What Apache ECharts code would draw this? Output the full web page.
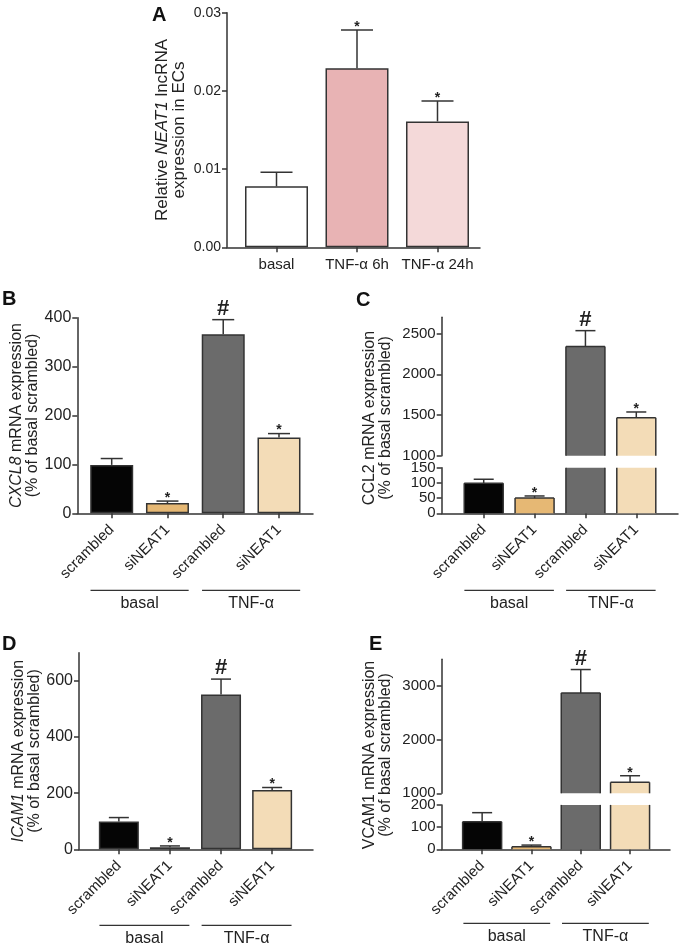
<!DOCTYPE html>
<html><head><meta charset="utf-8">
<script src="https://cdn.jsdelivr.net/npm/echarts@6/dist/echarts.min.js"></script>
<style>html,body{margin:0;padding:0;background:#fff}#c{width:681px;height:951px}</style>
</head><body><div id="c"></div>
<script>
// ---------- DATA ----------
const catsA = ['basal', 'TNF-α 6h', 'TNF-α 24h'];
const valsA = [0.0078, 0.0229, 0.0161];
const errA  = [0.0018, 0.0049, 0.0026];
const sigA  = ['', '*', '*'];
const ticksA = [0, 0.01, 0.02, 0.03];

const catsKD = ['scrambled', 'siNEAT1', 'scrambled', 'siNEAT1'];
const groupNames = ['basal', 'TNF-α'];
const groupSpans = [[0, 1], [2, 3]];

const valsB = [99, 21, 366, 155];
const errB  = [13, 4, 30, 8];
const sigB  = ['', '*', '#', '*'];
const ticksB = [0, 100, 200, 300, 400];

const valsC = [99, 50, 2340, 1467];
const errC  = [13, 7, 196, 70];
const sigC  = ['', '*', '#', '*'];
const ticksCLow = [0, 50, 100, 150];
const ticksCUp  = [1000, 1500, 2000, 2500];

const valsD = [99, 7, 551, 211];
const errD  = [14, 5, 55, 9];
const sigD  = ['', '*', '#', '*'];
const ticksD = [0, 200, 400, 600];

const valsE = [124, 12, 2873, 1205];
const errE  = [41, 7, 436, 123];
const sigE  = ['', '*', '#', '*'];
const ticksELow = [0, 100, 200];
const ticksEUp  = [1000, 2000, 3000];

// ---------- STYLE ----------
const FONT = "'Liberation Sans', Arial, Helvetica, sans-serif";
const INK = '#333333';
const TXT = '#222222';
const colorsA = ['#ffffff', '#e8b3b4', '#f4d9d9'];
const colorsKD = ['#050505', '#e6b874', '#6b6b6b', '#f3dcb7'];

const grids = [], xAxes = [], yAxes = [], series = [], graphics = [];

function xAxisCfg(gi, min, max, cats, show, labelOpt) {
  const idx = cats.map((c, i) => i);
  return {
    type: 'value', gridIndex: gi, min: min, max: max,
    axisLine: { show: show, onZero: false, lineStyle: { color: INK, width: 1.5 } },
    axisTick: { show: show, length: 5, customValues: idx, lineStyle: { color: INK, width: 1.5 } },
    axisLabel: Object.assign({ show: show, customValues: idx, formatter: v => cats[Math.round(v)] || '',
      color: TXT, fontFamily: FONT }, labelOpt || {}),
    splitLine: { show: false }
  };
}
function yAxisCfg(gi, min, max, ticks, fontSize, fmt, extra) {
  return Object.assign({
    type: 'value', gridIndex: gi, min: min, max: max,
    axisLine: { show: true, onZero: false, lineStyle: { color: INK, width: 1.5 } },
    axisTick: { show: true, length: 5, customValues: ticks, lineStyle: { color: INK, width: 1.5 } },
    axisLabel: { customValues: ticks, formatter: fmt, fontSize: fontSize, color: TXT, fontFamily: FONT, margin: 6 },
    splitLine: { show: false }
  }, extra || {});
}
function errRender(sigs, cap, starSize, hashSize) {
  return function (params, api) {
    const x = api.value(0), v = api.value(1), e = api.value(2);
    const p0 = api.coord([x, v]), p1 = api.coord([x, v + e]);
    const s = sigs[Math.round(x)];
    const ch = [
      { type: 'line', shape: { x1: p0[0], y1: p0[1], x2: p1[0], y2: p1[1] }, style: { stroke: INK, lineWidth: 1.5 } },
      { type: 'line', shape: { x1: p1[0] - cap, y1: p1[1], x2: p1[0] + cap, y2: p1[1] }, style: { stroke: INK, lineWidth: 1.5 } }
    ];
    if (s) {
      const isHash = s === '#';
      ch.push({ type: 'text', x: p1[0], y: p1[1] + (isHash ? 0 : 4),
        style: { text: s, align: 'center', verticalAlign: 'bottom', fontFamily: FONT,
          fontSize: isHash ? hashSize : starSize, fontWeight: 'bold', fill: TXT } });
    }
    return { type: 'group', children: ch };
  };
}
function groupRender(off, ext) {
  return function (params, api) {
    const s = api.value(0), e = api.value(1);
    const a = api.coord([s - ext, 0]), b = api.coord([e + ext, 0]);
    const y = a[1] + off;
    return { type: 'group', children: [
      { type: 'line', shape: { x1: a[0], y1: y, x2: b[0], y2: y }, style: { stroke: INK, lineWidth: 1.3 } },
      { type: 'text', x: (a[0] + b[0]) / 2, y: y + 5, style: { text: groupNames[params.dataIndex], align: 'center',
        verticalAlign: 'top', fontSize: 16, fontFamily: FONT, fill: TXT } }
    ] };
  };
}
function brokenBarRender(colors, halfW) {
  return function (params, api) {
    const i = api.value(0), v = api.value(1);
    const cs = params.coordSys;
    const top = api.coord([i, v]), base = api.coord([i, 0]);
    const yTop = Math.max(top[1], cs.y), yBot = Math.min(base[1], cs.y + cs.height);
    if (yTop >= yBot) return null;
    const x0 = top[0] - halfW, x1 = top[0] + halfW;
    const st = { stroke: INK, lineWidth: 1.5 };
    const ch = [
      { type: 'rect', shape: { x: x0, y: yTop, width: x1 - x0, height: yBot - yTop }, style: { fill: colors[Math.round(i)] } },
      { type: 'line', shape: { x1: x0, y1: yTop, x2: x0, y2: yBot }, style: st },
      { type: 'line', shape: { x1: x1, y1: yTop, x2: x1, y2: yBot }, style: st }
    ];
    if (top[1] >= cs.y) ch.push({ type: 'line', shape: { x1: x0, y1: yTop, x2: x1, y2: yTop }, style: st });
    return { type: 'group', children: ch };
  };
}
function barSeries(gi, vals, colors, barW) {
  return { type: 'bar', xAxisIndex: gi, yAxisIndex: gi, barWidth: barW, silent: true,
    itemStyle: { borderColor: INK, borderWidth: 1.5 },
    data: vals.map((v, i) => ({ value: [i, v], itemStyle: { color: colors[i] } })) };
}
function errSeries(gi, vals, errs, sigs, idx, cap, starSize, hashSize) {
  return { type: 'custom', xAxisIndex: gi, yAxisIndex: gi, clip: false, silent: true, z: 3,
    renderItem: errRender(sigs, cap, starSize, hashSize),
    data: idx.map(i => [i, vals[i], errs[i]]) };
}
function groupSeries(gi, off, ext) {
  return { type: 'custom', xAxisIndex: gi, yAxisIndex: gi, clip: false, silent: true,
    renderItem: groupRender(off, ext), data: groupSpans };
}
const catLabel = { fontSize: 15, rotate: 45, margin: 14 };
const nameStyle = (fs, lh, rich) => ({ fontSize: fs, lineHeight: lh, color: TXT, fontFamily: FONT, rich: rich });
function richName(fs) {
  return {
    n: { fontSize: fs, fontFamily: FONT, color: TXT },
    i: { fontSize: fs, fontFamily: FONT, color: TXT, fontStyle: 'italic' }
  };
}

// ---------- PANEL A ----------
let gi = grids.push({ left: 227, top: 12.7, width: 253, height: 234.6 }) - 1;
xAxes.push(xAxisCfg(gi, -0.615, 2.528, catsA, true, { fontSize: 15, margin: 10 }));
yAxes.push(yAxisCfg(gi, 0, 0.03, ticksA, 14, v => v.toFixed(2), {
  name: '{n|Relative }{i|NEAT1}{n| lncRNA}\n{n|expression in ECs}',
  nameLocation: 'middle', nameGap: 39, nameTextStyle: nameStyle(17, 17, richName(17)) }));
series.push(barSeries(gi, valsA, colorsA, 63));
series.push(errSeries(gi, valsA, errA, sigA, [0, 1, 2], 16, 14, 22));

// ---------- PANEL B ----------
gi = grids.push({ left: 77.3, top: 317.7, width: 235.7, height: 195.6 }) - 1;
xAxes.push(xAxisCfg(gi, -0.617, 3.61, catsKD, true, catLabel));
yAxes.push(yAxisCfg(gi, 0, 400, ticksB, 16, v => String(v), {
  name: '{i|CXCL8}{n| mRNA expression}\n{n|(% of basal scrambled)}',
  nameLocation: 'middle', nameGap: 35, nameTextStyle: nameStyle(16, 16, richName(16)) }));
series.push(barSeries(gi, valsB, colorsKD, 43));
series.push(errSeries(gi, valsB, errB, sigB, [0, 1, 2, 3], 11, 14, 22));
series.push(groupSeries(gi, 77, 0.38));

// ---------- PANEL C (broken axis) ----------
const giCU = grids.push({ left: 441.7, top: 317.3, width: 236.3, height: 138.4 }) - 1;
xAxes.push(xAxisCfg(giCU, -0.826, 3.82, catsKD, false));
yAxes.push(yAxisCfg(giCU, 1000, 2700, ticksCUp, 15, v => String(v)));
const giCL = grids.push({ left: 441.7, top: 467.7, width: 236.3, height: 45.6 }) - 1;
xAxes.push(xAxisCfg(giCL, -0.826, 3.82, catsKD, true, catLabel));
yAxes.push(yAxisCfg(giCL, 0, 150, ticksCLow, 15, v => String(v)));
series.push({ type: 'custom', xAxisIndex: giCU, yAxisIndex: giCU, silent: true, clip: false,
  renderItem: brokenBarRender(colorsKD, 19.5), data: valsC.map((v, i) => [i, v]) });
series.push({ type: 'custom', xAxisIndex: giCL, yAxisIndex: giCL, silent: true, clip: false,
  renderItem: brokenBarRender(colorsKD, 19.5), data: valsC.map((v, i) => [i, v]) });
series.push(errSeries(giCU, valsC, errC, sigC, [0, 1, 2, 3].filter(i => valsC[i] > 1000), 10, 14, 22));
series.push(errSeries(giCL, valsC, errC, sigC, [0, 1, 2, 3].filter(i => valsC[i] + errC[i] <= 150), 10, 14, 22));
series.push(groupSeries(giCL, 77, 0.38));

// ---------- PANEL D ----------
gi = grids.push({ left: 79, top: 652.7, width: 234, height: 196.6 }) - 1;
xAxes.push(xAxisCfg(gi, -0.78, 3.8, catsKD, true, catLabel));
yAxes.push(yAxisCfg(gi, 0, 700, ticksD, 16, v => String(v), {
  name: '{i|ICAM1}{n| mRNA expression}\n{n|(% of basal scrambled)}',
  nameLocation: 'middle', nameGap: 36, nameTextStyle: nameStyle(16, 16, richName(16)) }));
series.push(barSeries(gi, valsD, colorsKD, 40));
series.push(errSeries(gi, valsD, errD, sigD, [0, 1, 2, 3], 10, 14, 22));
series.push(groupSeries(gi, 76, 0.38));

// ---------- PANEL E (broken axis) ----------
const giEU = grids.push({ left: 441.7, top: 659.3, width: 228.3, height: 134 }) - 1;
xAxes.push(xAxisCfg(giEU, -0.82, 3.81, catsKD, false));
yAxes.push(yAxisCfg(giEU, 1000, 3500, ticksEUp, 15, v => String(v)));
const giEL = grids.push({ left: 441.7, top: 804.9, width: 228.3, height: 44.4 }) - 1;
xAxes.push(xAxisCfg(giEL, -0.82, 3.81, catsKD, true, catLabel));
yAxes.push(yAxisCfg(giEL, 0, 200, ticksELow, 15, v => String(v)));
series.push({ type: 'custom', xAxisIndex: giEU, yAxisIndex: giEU, silent: true, clip: false,
  renderItem: brokenBarRender(colorsKD, 19.5), data: valsE.map((v, i) => [i, v]) });
series.push({ type: 'custom', xAxisIndex: giEL, yAxisIndex: giEL, silent: true, clip: false,
  renderItem: brokenBarRender(colorsKD, 19.5), data: valsE.map((v, i) => [i, v]) });
series.push(errSeries(giEU, valsE, errE, sigE, [0, 1, 2, 3].filter(i => valsE[i] > 1000), 10, 14, 22));
series.push(errSeries(giEL, valsE, errE, sigE, [0, 1, 2, 3].filter(i => valsE[i] + errE[i] <= 200), 10, 14, 22));
series.push(groupSeries(giEL, 74, 0.38));

// ---------- TITLES / PANEL LETTERS ----------
function vTitle(x, y, gene, italic) {
  return { type: 'text', x: x, y: y, rotation: Math.PI / 2, silent: true,
    style: { text: (italic ? '{i|' : '{n|') + gene + '}{n| mRNA expression}\n{n|(% of basal scrambled)}',
      align: 'center', verticalAlign: 'middle', lineHeight: 16, fontSize: 16, fontFamily: FONT, fill: TXT,
      rich: richName(16) } };
}
graphics.push(vTitle(378, 418, 'CCL2', false));
graphics.push(vTitle(378, 755, 'VCAM1', false));
function letter(t, x, y) {
  return { type: 'text', x: x, y: y, silent: true,
    style: { text: t, fontSize: 20, fontWeight: 'bold', fontFamily: FONT, fill: '#111', align: 'left', verticalAlign: 'top' } };
}
graphics.push(letter('A', 152, 5), letter('B', 2, 289), letter('C', 356, 290), letter('D', 2, 634), letter('E', 369, 634));

const chart = echarts.init(document.getElementById('c'), null, { renderer: 'canvas' });
chart.setOption({
  animation: false,
  backgroundColor: '#ffffff',
  textStyle: { fontFamily: FONT },
  grid: grids, xAxis: xAxes, yAxis: yAxes, series: series, graphic: graphics
});
</script>
</body></html>
